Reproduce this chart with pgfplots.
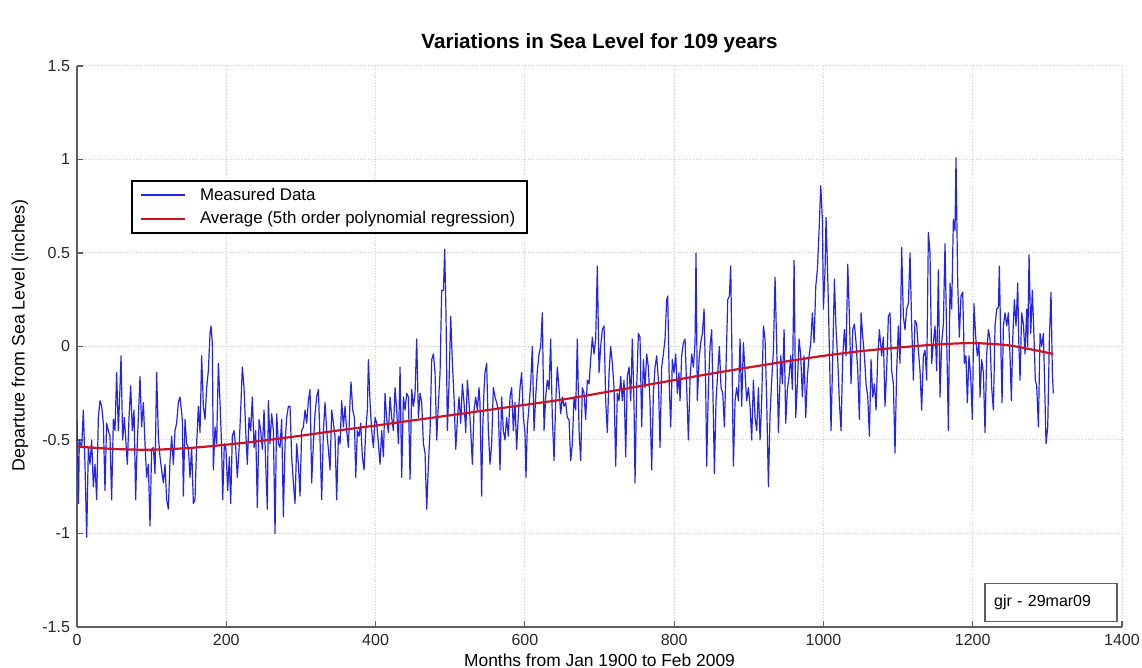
\documentclass[border=0pt]{standalone}
\usepackage{fontspec}
\setmainfont{Liberation Sans}
\usepackage{pgfplots}
\pgfplotsset{compat=1.18}

\definecolor{dataBlue}{RGB}{35,35,235}
\definecolor{avgRed}{RGB}{205,20,30}
\definecolor{axisGray}{RGB}{95,95,95}
\definecolor{gridGray}{RGB}{205,205,205}

\begin{document}
\begin{tikzpicture}
\useasboundingbox (-38.5pt,-20.5pt) rectangle (532.5pt,313.5pt);
\begin{axis}[
  scale only axis,
  width=522.5pt, height=280.5pt,
  xmin=0, xmax=1400, ymin=-1.5, ymax=1.5,
  xtick={0,200,...,1400},
  ytick={-1.5,-1,-0.5,0,0.5,1,1.5},
  axis x line*=bottom, axis y line*=left,
  axis line style={axisGray, line width=0.8pt, -},
  tick align=inside,
  major tick length=3pt,
  tick style={axisGray, line width=0.6pt},
  grid=major,
  major grid style={gridGray, densely dotted, line width=0.5pt},
  ticklabel style={font=\fontsize{8}{9}\selectfont, text=black!85},
  /pgf/number format/assume math mode=true,
  /pgf/number format/1000 sep={},
  xlabel={Months from Jan 1900 to Feb 2009},
  ylabel={Departure from Sea Level (inches)},
  xlabel style={font=\fontsize{8.7}{10}\selectfont, at={(axis description cs:0.5,0)}, anchor=center, yshift=-16.5pt},
  ylabel style={font=\fontsize{8.9}{10}\selectfont, at={(axis description cs:0,0.52)}, anchor=center, yshift=28.5pt},
  legend style={at={(rel axis cs:0.0517,0.797)}, anchor=north west, draw=black, line width=0.9pt,
    font=\fontsize{8.45}{10}\selectfont, inner xsep=4pt, inner ysep=1.5pt, row sep=0pt},
  legend cell align=left,
  legend image code/.code={\draw[#1, line width=1pt] (0pt,0pt) -- (22pt,0pt); \path (27pt,0pt);},
]

% monthly departures, Jan 1900 onwards
\addplot[dataBlue, line width=0.6pt, line join=round] coordinates {
(0,-0.39) (2,-0.84) (3.1,-0.50) (6.3,-0.54) (8.5,-0.34) (10.7,-0.63) (13.0,-1.02) (15.2,-0.54)
(17.4,-0.63) (19.7,-0.50) (21.9,-0.75) (24.1,-0.63) (26.4,-0.82) (28.6,-0.38) (30.8,-0.29) (33.0,-0.32)
(35.3,-0.41) (37.5,-0.77) (39.7,-0.41) (42.0,-0.45) (44.2,-0.48) (46.4,-0.82) (48.7,-0.39) (50.9,-0.45)
(53.1,-0.14) (55.4,-0.45) (57.6,-0.22) (59.0,-0.05) (61.2,-0.50) (63.4,-0.38) (65.7,-0.52) (67.4,-0.63)
(69.7,-0.38) (71.9,-0.21) (74.1,-0.45) (76.4,-0.34) (78.6,-0.82) (79.9,-0.61) (82.2,-0.38) (84.4,-0.16)
(86.6,-0.43) (88.9,-0.30) (91.1,-0.52) (93.3,-0.70) (95.6,-0.63) (97.8,-0.96) (100.0,-0.55) (102.3,-0.54)
(104.5,-0.68) (106.7,-0.14) (109.0,-0.48) (111.2,-0.59) (113.4,-0.66) (115.7,-0.73) (117.9,-0.63) (120.1,-0.82)
(122.4,-0.87) (124.6,-0.61) (126.8,-0.48) (129.1,-0.63) (131.3,-0.45) (133.5,-0.41) (135.8,-0.30)
(138.0,-0.27) (141.1,-0.39) (142.5,-0.80) (144.7,-0.39) (146.9,-0.52) (149.2,-0.54) (151.4,-0.70) (153.6,-0.54)
(155.9,-0.84) (158.1,-0.82) (160.3,-0.52) (162.6,-0.32) (164.8,-0.46) (167.0,-0.05) (169.3,-0.32) (171.5,-0.39)
(173.7,-0.22) (176.0,-0.13) (178.2,0.07) (179.5,0.11) (181.3,0.02) (182.7,-0.66) (184.9,-0.43) (187.1,-0.52)
(189.4,-0.09) (191.6,-0.30) (193.8,-0.54) (195.2,-0.82) (197.4,-0.52) (199.6,-0.55) (201.9,-0.77) (204.1,-0.59)
(205.9,-0.84) (208.1,-0.48) (210.4,-0.45) (212.6,-0.54) (214.8,-0.70) (217.1,-0.55) (219.3,-0.34) (221.5,-0.11)
(223.8,-0.22) (226.0,-0.45) (228.2,-0.63) (230.5,-0.38) (232.7,-0.45) (234.9,-0.27) (237.2,-0.54) (239.4,-0.45)
(241.6,-0.86) (243.9,-0.39) (246.1,-0.45) (248.3,-0.55) (250.6,-0.34) (252.8,-0.63) (255.0,-0.87) (256.4,-0.29)
(258.6,-0.52) (260.8,-0.36) (263.1,-0.45) (265.3,-1.00) (267.5,-0.36) (269.8,-0.52)
(272.0,-0.54) (274.2,-0.39) (276.5,-0.91) (278.7,-0.52) (280.9,-0.38) (283.2,-0.32) (285.4,-0.32) (287.6,-0.59)
(289.9,-0.73) (292.1,-0.84) (294.3,-0.52) (296.6,-0.63) (298.8,-0.80) (301.0,-0.45) (303.3,-0.43) (305.5,-0.34)
(307.7,-0.41) (310.0,-0.29) (312.2,-0.23) (314.4,-0.73) (316.7,-0.52) (318.9,-0.36) (321.1,-0.27) (323.4,-0.23)
(325.6,-0.50) (327.8,-0.82) (330.1,-0.45) (332.3,-0.30) (334.5,-0.45) (336.8,-0.55) (339.0,-0.66) (341.2,-0.34)
(343.5,-0.41) (345.7,-0.48) (347.9,-0.82) (350.2,-0.48) (352.4,-0.52) (354.6,-0.29) (356.9,-0.43) (359.1,-0.32)
(361.3,-0.45) (363.6,-0.54) (365.8,-0.29) (367.1,-0.19) (369.4,-0.34) (371.6,-0.38) (373.4,-0.70) (375.6,-0.45)
(377.9,-0.48) (380.1,-0.41) (382.3,-0.59) (384.6,-0.66) (386.8,-0.45) (389.0,-0.34) (390.4,-0.07) (392.6,-0.30)
(394.8,-0.45) (397.1,-0.54) (399.3,-0.38) (401.5,-0.41) (403.8,-0.52)
(406.0,-0.63) (408.2,-0.45) (410.5,-0.59) (412.7,-0.25) (414.9,-0.39) (417.2,-0.46) (419.4,-0.27) (421.6,-0.38)
(423.9,-0.45) (426.1,-0.22) (428.3,-0.34) (430.6,-0.52) (432.8,-0.11) (435.0,-0.70) (437.3,-0.27) (439.5,-0.34)
(441.7,-0.25) (444.0,-0.27) (446.2,-0.71) (448.4,-0.23) (450.7,-0.32) (452.9,-0.25) (455.1,0.04) (457.4,-0.38)
(459.6,-0.25) (461.8,-0.30) (464.1,-0.52) (466.3,-0.57) (468.5,-0.87) (470.8,-0.63) (473.0,-0.45) (475.2,-0.07)
(477.5,-0.04) (479.7,-0.14) (481.9,-0.50) (484.2,-0.30) (486.4,-0.14) (488.6,0.30) (490.9,0.30) (492.6,0.52)
(494.4,0.16) (496.2,-0.45) (498.4,-0.20) (500.7,0.16) (502.9,-0.09) (505.1,-0.27) (507.4,-0.55) (509.6,-0.39)
(511.8,-0.27) (514.1,-0.41) (516.3,-0.20) (518.5,-0.30) (520.8,-0.46) (523.0,-0.18) (525.2,-0.30) (527.5,-0.45)
(529.7,-0.63) (531.9,-0.34) (534.2,-0.27) (536.4,-0.34) (538.6,-0.22)
(539.9,-0.30) (542.1,-0.80) (543.5,-0.45) (545.3,-0.23) (546.6,-0.14) (548.8,-0.09) (551.1,-0.45) (553.3,-0.63)
(555.5,-0.52) (557.8,-0.22) (560.0,-0.27) (562.2,-0.30) (564.5,-0.34) (566.7,-0.66) (568.9,-0.27) (571.2,-0.45)
(573.4,-0.50) (575.6,-0.38) (577.9,-0.48) (580.1,-0.27) (582.3,-0.22) (584.6,-0.45) (586.8,-0.30) (589.0,-0.55)
(591.3,-0.36) (593.5,-0.22) (595.7,-0.14) (598.0,-0.38) (600.2,-0.46) (601.5,-0.70) (603.3,-0.43) (605.6,-0.32)
(607.8,-0.20) (610.0,0.00) (612.3,-0.45) (614.5,-0.27) (616.7,-0.13) (619.0,-0.04) (621.2,0.00) (623.4,0.18)
(625.7,-0.45) (627.9,-0.27) (630.1,-0.18) (632.4,-0.23) (634.6,0.04) (636.8,-0.38) (639.1,-0.61) (641.3,-0.30)
(643.5,-0.11) (645.8,-0.23) (648.0,-0.36) (650.2,-0.27) (652.5,-0.32) (654.7,-0.30) (656.9,-0.38) (659.2,-0.39)
(661.4,-0.61) (663.6,-0.52) (665.9,-0.27) (668.1,-0.34) (670.3,0.04) (672.6,-0.45)
(674.8,-0.61) (677.0,-0.22) (679.3,-0.25) (681.5,-0.39) (683.7,-0.18) (686.0,-0.20) (688.2,-0.07) (690.4,0.05)
(692.7,-0.04) (694.9,0.04) (697.1,0.43) (699.4,-0.14) (701.6,0.00) (703.8,0.09) (706.1,0.11) (708.3,-0.29)
(710.5,-0.46) (712.8,-0.14) (715.0,0.00) (717.2,-0.09) (719.5,-0.22) (721.7,-0.64) (723.9,-0.25) (726.2,-0.29)
(728.4,-0.16) (730.6,-0.29) (732.9,-0.18) (735.1,-0.59) (737.3,-0.16) (739.6,-0.11) (741.8,-0.29) (744.0,0.04)
(746.3,-0.32) (747.6,-0.73) (749.8,-0.22) (752.1,0.07) (754.3,0.05) (756.5,-0.43) (758.8,-0.07) (761.0,-0.22)
(763.2,-0.04) (765.5,-0.11) (767.7,-0.30) (769.9,-0.66) (772.2,-0.25) (774.4,-0.11) (776.6,-0.05) (778.9,-0.18)
(781.1,-0.54) (783.3,-0.11) (785.6,-0.04) (787.8,0.04) (790.0,0.25) (791.4,0.27) (793.6,-0.22) (795.4,-0.43)
(797.6,-0.07) (799.8,-0.14) (802.1,-0.04) (804.3,-0.25) (806.5,-0.14)
(807.9,-0.29) (810.1,-0.05) (812.4,0.02) (814.6,0.04) (816.8,-0.22) (819.1,-0.50) (821.3,-0.18) (823.5,-0.04)
(825.8,-0.11) (828.0,0.02) (829.3,0.50) (831.1,-0.29) (833.4,-0.07) (835.6,0.02) (837.8,0.07) (840.1,0.20)
(842.3,-0.22) (843.6,-0.64) (845.9,-0.22) (848.1,0.00) (850.3,0.09) (852.6,-0.38) (853.9,-0.68) (856.1,-0.29)
(858.4,-0.14) (860.6,0.00) (862.8,-0.22) (865.1,-0.25) (867.3,-0.43) (869.5,-0.11) (871.8,0.25) (874.0,0.27)
(875.8,0.43) (878.0,-0.22) (879.4,-0.64) (881.6,-0.29) (883.8,-0.22) (886.1,-0.29) (888.3,0.04) (890.5,-0.32)
(892.8,0.02) (895.0,-0.14) (897.2,-0.29) (899.5,-0.22) (901.7,-0.32) (903.9,-0.50) (906.2,-0.18) (908.4,-0.38)
(910.6,-0.45) (912.9,-0.22) (915.1,-0.50) (917.3,-0.29) (919.6,0.11) (921.8,0.04) (924.0,-0.29) (926.3,-0.75)
(928.5,-0.36) (930.7,-0.18) (933.0,-0.02) (935.2,0.37) (937.4,0.00) (939.7,-0.46)
(942.8,-0.05) (945.0,-0.20) (947.3,0.09) (949.5,-0.41) (951.7,-0.23) (954.0,-0.16) (956.2,-0.05) (958.4,-0.23)
(960.7,0.46) (962.9,-0.38) (965.1,-0.20) (967.4,0.04) (969.6,-0.05) (971.8,-0.27) (974.1,-0.05) (976.3,-0.38)
(978.5,-0.16) (980.8,-0.05) (983.0,0.02) (985.2,0.18) (987.5,0.02) (989.7,0.32) (991.9,0.41) (994.2,0.62)
(996.4,0.86) (998.6,0.68) (1000.0,0.20) (1002.2,0.41) (1003.5,0.69) (1005.8,0.37) (1008.0,-0.02) (1010.2,-0.45)
(1012.5,-0.05) (1014.7,0.36) (1016.9,0.09) (1019.2,-0.07) (1021.4,-0.30) (1023.6,-0.45) (1025.9,-0.05) (1028.1,0.09)
(1030.3,-0.05) (1032.6,0.44) (1034.8,0.16) (1037.0,-0.20) (1039.3,0.09) (1041.5,0.12) (1043.7,0.02) (1046.0,-0.13)
(1048.2,-0.39) (1050.4,0.18) (1052.7,0.05) (1054.9,-0.05) (1057.1,-0.20) (1059.4,-0.27) (1061.6,-0.48) (1063.8,-0.07)
(1066.1,-0.27) (1068.3,-0.20) (1070.5,-0.34) (1072.8,-0.05) (1075.0,0.09)
(1078.0,-0.05) (1080.3,0.05) (1082.5,-0.32) (1084.7,-0.13) (1087.0,0.16) (1089.2,0.18) (1091.4,-0.13) (1093.7,-0.20)
(1095.9,-0.57) (1098.1,-0.13) (1100.4,0.11) (1102.6,-0.09) (1104.8,0.53) (1107.1,0.16) (1109.3,0.09) (1111.5,0.20)
(1113.8,0.23) (1116.0,0.50) (1118.2,0.12) (1120.5,-0.18) (1122.7,0.14) (1124.9,0.12) (1127.2,-0.02) (1129.4,-0.13)
(1131.6,-0.34) (1133.9,-0.05) (1136.1,-0.02) (1138.3,-0.18) (1140.6,0.61) (1142.8,0.50) (1145.0,-0.09) (1147.3,0.02)
(1149.5,0.11) (1151.7,-0.13) (1154.0,0.41) (1156.2,-0.27) (1158.4,0.02) (1160.7,0.12) (1162.9,0.55) (1165.1,0.05)
(1167.4,-0.45) (1169.6,0.34) (1171.8,0.20) (1174.1,0.68) (1176.3,0.62) (1177.6,1.01) (1179.9,0.34) (1182.1,0.05)
(1184.3,0.27) (1186.6,0.29) (1188.8,-0.09) (1191.0,-0.05) (1192.8,-0.30) (1195.0,-0.05) (1197.3,-0.16) (1199.5,-0.39)
(1201.7,0.23) (1204.0,0.05) (1206.2,-0.05) (1208.4,0.02)
(1209.8,-0.27) (1212.0,-0.07) (1214.3,-0.14) (1216.5,-0.46) (1218.7,-0.04) (1221.0,0.09) (1223.2,0.04) (1225.4,-0.22)
(1227.7,-0.34) (1229.9,0.11) (1232.1,0.20) (1234.4,0.21) (1235.7,0.43) (1237.5,0.04) (1239.3,-0.30) (1241.1,0.11)
(1243.3,0.18) (1245.5,0.11) (1247.8,0.18) (1250.0,-0.05) (1251.8,-0.29) (1253.6,0.04) (1255.8,0.25) (1258.0,0.11)
(1260.3,0.34) (1261.6,0.04) (1263.4,-0.18) (1265.6,0.18) (1267.9,0.12) (1270.1,-0.04) (1272.3,0.20) (1273.7,0.00)
(1275.5,0.49) (1277.7,0.07) (1279.9,0.30) (1282.2,0.04) (1283.9,-0.18) (1285.7,-0.21) (1288.0,-0.43) (1290.2,0.07)
(1292.4,0.00) (1294.7,0.07) (1296.9,-0.29) (1298.2,-0.52) (1300.5,-0.43) (1302.7,0.04) (1304.9,0.29) (1306.7,-0.14)
(1308.0,-0.25)
};
\addlegendentry{Measured Data}

% fitted trend curve
\addplot[avgRed, line width=1.1pt, smooth] coordinates {
(0,-0.535) (50,-0.548) (100,-0.552) (150,-0.543) (200,-0.525) (250,-0.503) (300,-0.477)
(350,-0.449) (400,-0.423) (450,-0.395) (500,-0.368) (550,-0.340) (600,-0.312) (650,-0.284)
(700,-0.250) (750,-0.215) (800,-0.180) (850,-0.145) (900,-0.112) (950,-0.080) (1000,-0.050)
(1050,-0.025) (1100,-0.006) (1150,0.010) (1200,0.018) (1250,0.005) (1308,-0.040)
};
\addlegendentry{Average (5th order polynomial regression)}

\node[draw=axisGray, line width=0.7pt, anchor=south east, minimum height=19pt,
  text width=57pt, inner xsep=4.5pt, align=left, font=\fontsize{8}{9}\selectfont]
  at (rel axis cs:0.996,0.009) {gjr - 29mar09};
\end{axis}
% title above the plot area
\node[font=\bfseries\fontsize{10.3}{12}\selectfont, anchor=center] at (261.25pt,292pt)
  {Variations in Sea Level for 109 years};
\end{tikzpicture}
\end{document}
